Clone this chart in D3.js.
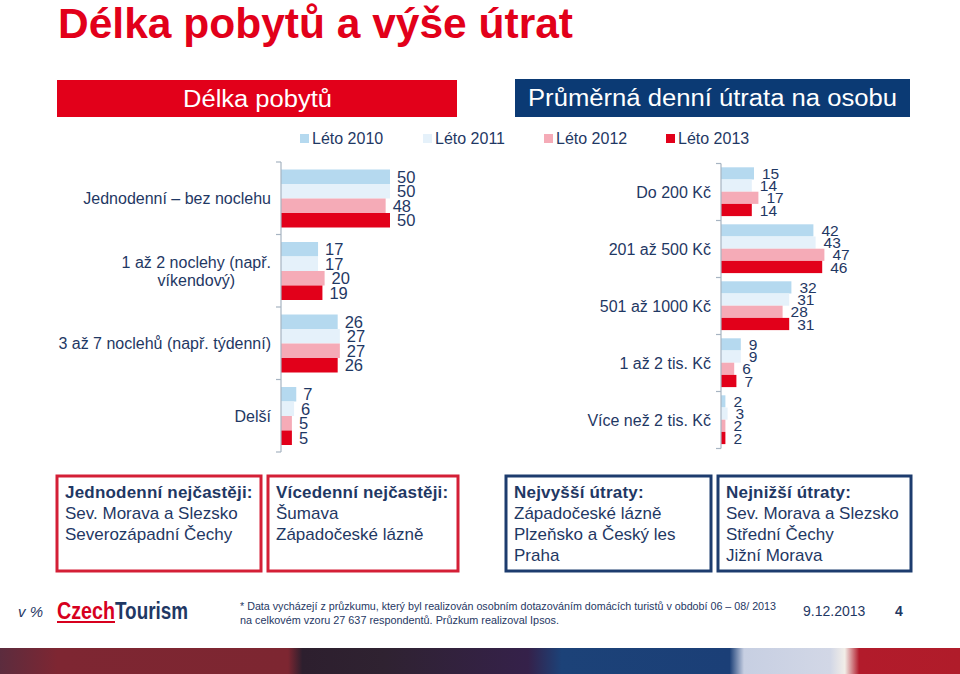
<!DOCTYPE html>
<html><head><meta charset="utf-8">
<script src="https://cdn.jsdelivr.net/npm/d3@7"></script>
<style>
body{margin:0;background:#fff;}
svg{display:block;font-family:"Liberation Sans",Arial,sans-serif;}
</style></head>
<body><svg id="c" width="960" height="674"></svg>
<script>
// ---------- data ----------
const series = ["Léto 2010", "Léto 2011", "Léto 2012", "Léto 2013"];
const stayCategories = [["Jednodenní – bez noclehu"], ["1 až 2 noclehy (např.", "víkendový)"], ["3 až 7 noclehů (např. týdenní)"], ["Delší"]];
const stay2010 = [50, 17, 26, 7];
const stay2011 = [50, 17, 27, 6];
const stay2012 = [48, 20, 27, 5];
const stay2013 = [50, 19, 26, 5];
const spendCategories = ["Do 200 Kč", "201 až 500 Kč", "501 až 1000 Kč", "1 až 2 tis. Kč", "Více než 2 tis. Kč"];
const spend2010 = [15, 42, 32, 9, 2];
const spend2011 = [14, 43, 31, 9, 3];
const spend2012 = [17, 47, 28, 6, 2];
const spend2013 = [14, 46, 31, 7, 2];
const boxTexts = [
  ["Jednodenní nejčastěji:", "Sev. Morava a Slezsko", "Severozápadní Čechy"],
  ["Vícedenní nejčastěji:", "Šumava", "Západočeské lázně"],
  ["Nejvyšší útraty:", "Západočeské lázně", "Plzeňsko a Český les", "Praha"],
  ["Nejnižší útraty:", "Sev. Morava a Slezsko", "Střední Čechy", "Jižní Morava"]
];

const colors = ["#b5d9ef", "#e5f1fa", "#f5abb7", "#e2001a"];
const navy = "#1f3864";
const svg = d3.select("#c");

// ---------- title & headers ----------
svg.append("text").attr("x", 58).attr("y", 38).attr("font-size", 42).attr("font-weight", "bold")
  .attr("fill", "#e2001a").attr("textLength", 515).attr("lengthAdjust", "spacingAndGlyphs")
  .text("Délka pobytů a výše útrat");

svg.append("rect").attr("x", 57).attr("y", 80).attr("width", 400).attr("height", 37).attr("fill", "#e2001a");
svg.append("text").attr("x", 183).attr("y", 107).attr("font-size", 23).attr("fill", "#fff")
  .attr("textLength", 149).attr("lengthAdjust", "spacingAndGlyphs").text("Délka pobytů");
svg.append("rect").attr("x", 515).attr("y", 79).attr("width", 395).attr("height", 38).attr("fill", "#0b3a74");
svg.append("text").attr("x", 528).attr("y", 106).attr("font-size", 23).attr("fill", "#fff")
  .attr("textLength", 369).attr("lengthAdjust", "spacingAndGlyphs").text("Průměrná denní útrata na osobu");

// ---------- legend ----------
const legX = [300, 423, 544, 666];
series.forEach((s, i) => {
  svg.append("rect").attr("x", legX[i]).attr("y", 134).attr("width", 9).attr("height", 9).attr("fill", colors[i]);
  svg.append("text").attr("x", legX[i] + 12).attr("y", 144).attr("font-size", 16).attr("fill", navy).text(s);
});

// ---------- chart builder ----------
function barChart(cfg) {
  const g = svg.append("g");
  const y0 = d3.scaleBand().domain(d3.range(cfg.values[0].length)).range(cfg.yRange).padding(0);
  const y1 = d3.scaleBand().domain(d3.range(series.length)).range(cfg.inner).padding(0);
  const x = d3.scaleLinear().domain([0, 50]).range([cfg.x0, cfg.x0 + cfg.w50]);

  cfg.values.forEach((vals, si) => {
    g.selectAll(null).data(vals).enter().append("rect")
      .attr("x", x(0)).attr("y", (d, i) => y0(i) + y1(si))
      .attr("width", d => x(d) - x(0)).attr("height", y1.bandwidth())
      .attr("fill", colors[si]);
    g.selectAll(null).data(vals).enter().append("text")
      .attr("x", d => x(d) + cfg.labOff).attr("y", (d, i) => y0(i) + y1(si) + y1.bandwidth() / 2)
      .attr("dy", "0.36em").attr("font-size", cfg.labSize).attr("fill", navy).text(d => d);
  });

  g.append("line").attr("x1", x(0)).attr("x2", x(0)).attr("y1", cfg.yRange[0]).attr("y2", cfg.yRange[1])
    .attr("stroke", "#a7b4c2").attr("stroke-width", 1.2);
  const n = cfg.values[0].length;
  g.selectAll(null).data(d3.range(n + 1)).enter().append("line")
    .attr("x1", x(0) - 5).attr("x2", x(0))
    .attr("y1", i => i < n ? y0(i) : cfg.yRange[1]).attr("y2", i => i < n ? y0(i) : cfg.yRange[1])
    .attr("stroke", "#a7b4c2").attr("stroke-width", 1.2);

  cfg.categories.forEach((lines, i) => {
    const cy = y0(i) + y0.bandwidth() / 2;
    const lh = 18;
    const t = g.append("text").attr("font-size", 16).attr("fill", navy).attr("text-anchor", "middle");
    const ts = lines.map((l, k) => t.append("tspan").text(l)
      .attr("y", cy + (k - (lines.length - 1) / 2) * lh).attr("dy", "0.36em"));
    const maxW = d3.max(ts, s => s.node().getComputedTextLength());
    ts.forEach(s => s.attr("x", cfg.labelRight - maxW / 2));
  });
}

barChart({
  values: [stay2010, stay2011, stay2012, stay2013],
  categories: stayCategories,
  yRange: [162, 452], inner: [7.5, 65.5],
  x0: 281, w50: 109, labOff: 7, labelRight: 271, labSize: 16.5
});
barChart({
  values: [spend2010, spend2011, spend2012, spend2013],
  categories: spendCategories.map(c => [c]),
  yRange: [163.5, 448.5], inner: [3.8, 52.6],
  x0: 721, w50: 110, labOff: 8, labelRight: 711, labSize: 15.5
});

// ---------- boxes ----------
const boxes = [
  {x: 57, w: 204, c: "#d41f36"}, {x: 268, w: 190, c: "#d41f36"},
  {x: 506, w: 205, c: "#1d3c6e"}, {x: 718, w: 193, c: "#1d3c6e"}
];
boxes.forEach((b, i) => {
  svg.append("rect").attr("x", b.x).attr("y", 476).attr("width", b.w).attr("height", 95)
    .attr("fill", "#fff").attr("stroke", b.c).attr("stroke-width", 3);
  boxTexts[i].forEach((line, k) => {
    svg.append("text").attr("x", b.x + 8).attr("y", 498 + k * 21).attr("font-size", 17)
      .attr("fill", navy).attr("font-weight", k === 0 ? "bold" : "normal")
      .attr("letter-spacing", k === 0 ? 0.2 : 0).text(line);
  });
});

// ---------- footer ----------
svg.append("text").attr("x", 18).attr("y", 617).attr("font-size", 15).attr("font-style", "italic")
  .attr("fill", navy).text("v %");
svg.append("text").attr("x", 57).attr("y", 619).attr("font-size", 23).attr("font-weight", "bold").attr("fill", "#d7001e")
  .attr("textLength", 58).attr("lengthAdjust", "spacingAndGlyphs").text("Czech");
svg.append("rect").attr("x", 57).attr("y", 621).attr("width", 58).attr("height", 2).attr("fill", "#d7001e");
svg.append("text").attr("x", 115).attr("y", 619).attr("font-size", 23).attr("font-weight", "bold").attr("fill", "#1f3864")
  .attr("textLength", 73).attr("lengthAdjust", "spacingAndGlyphs").text("Tourism");
svg.append("text").attr("x", 240).attr("y", 610).attr("font-size", 11).attr("fill", navy)
  .attr("textLength", 536).attr("lengthAdjust", "spacingAndGlyphs")
  .text("* Data vycházejí z průzkumu, který byl realizován osobním dotazováním domácích turistů v období 06 – 08/ 2013");
svg.append("text").attr("x", 240).attr("y", 624).attr("font-size", 11).attr("fill", navy)
  .attr("textLength", 319).attr("lengthAdjust", "spacingAndGlyphs")
  .text("na celkovém vzoru 27 637  respondentů. Průzkum realizoval Ipsos.");
svg.append("text").attr("x", 803).attr("y", 616).attr("font-size", 14).attr("fill", navy).text("9.12.2013");
svg.append("text").attr("x", 895).attr("y", 616).attr("font-size", 14).attr("font-weight", "bold").attr("fill", navy).text("4");

// decorative band
const defs = svg.append("defs");
const gr = defs.append("linearGradient").attr("id", "band");
[[0, "#5c2c3e"], [0.06, "#7e2632"], [0.3, "#7d2631"], [0.315, "#2d1f2e"], [0.4, "#2f2231"], [0.55, "#35214a"],
 [0.585, "#1c4278"], [0.76, "#1b3f77"], [0.775, "#c7cfe2"], [0.865, "#d2d7e6"], [0.88, "#f2eee8"], [0.895, "#b21b2b"], [1, "#b01c2a"]]
  .forEach(s => gr.append("stop").attr("offset", s[0]).attr("stop-color", s[1]));
svg.append("rect").attr("x", 0).attr("y", 648).attr("width", 960).attr("height", 26).attr("fill", "url(#band)");
</script></body></html>
